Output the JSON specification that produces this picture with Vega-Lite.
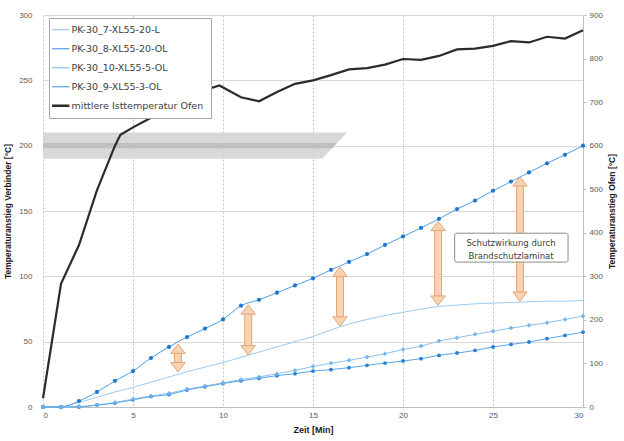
{
  "$schema": "https://vega.github.io/schema/vega-lite/v6.json",
  "width": 540,
  "height": 392,
  "autosize": {"type": "none"},
  "padding": {"left": 43, "top": 15, "right": 41, "bottom": 34},
  "background": "white",
  "config": {
    "view": {"stroke": null},
    "font": "Liberation Sans",
    "axis": {
      "labelFont": "Liberation Sans",
      "labelFontSize": 8,
      "labelColor": "#595959",
      "titleFont": "Liberation Sans",
      "titleFontSize": 8.5,
      "titleFontWeight": "bold",
      "titleColor": "#1a1a1a",
      "domainColor": "#bfbfbf",
      "tickColor": "#bfbfbf"
    },
    "legend": {
      "orient": "none",
      "legendX": 6,
      "legendY": 3,
      "fillColor": "white",
      "strokeColor": "#a6a6a6",
      "padding": 7,
      "labelFont": "DejaVu Sans",
      "labelFontSize": 9.5,
      "labelColor": "#404040",
      "labelOffset": 6,
      "symbolType": "stroke",
      "symbolSize": 300,
      "symbolStrokeWidth": 1.2,
      "rowPadding": 8
    }
  },
  "datasets": {
    "verb": [
      {"t":0,"series":"PK-30_7-XL55-20-L","v":0},{"t":1,"series":"PK-30_7-XL55-20-L","v":0.5},{"t":2,"series":"PK-30_7-XL55-20-L","v":3.5},{"t":3,"series":"PK-30_7-XL55-20-L","v":7.5},{"t":4,"series":"PK-30_7-XL55-20-L","v":11.5},{"t":5,"series":"PK-30_7-XL55-20-L","v":15},{"t":6,"series":"PK-30_7-XL55-20-L","v":19},{"t":7,"series":"PK-30_7-XL55-20-L","v":23},{"t":8,"series":"PK-30_7-XL55-20-L","v":27},{"t":9,"series":"PK-30_7-XL55-20-L","v":30.5},{"t":10,"series":"PK-30_7-XL55-20-L","v":34},{"t":11,"series":"PK-30_7-XL55-20-L","v":38},{"t":12,"series":"PK-30_7-XL55-20-L","v":42},{"t":13,"series":"PK-30_7-XL55-20-L","v":46},{"t":14,"series":"PK-30_7-XL55-20-L","v":50},{"t":15,"series":"PK-30_7-XL55-20-L","v":54},{"t":16,"series":"PK-30_7-XL55-20-L","v":59},{"t":17,"series":"PK-30_7-XL55-20-L","v":63.5},{"t":18,"series":"PK-30_7-XL55-20-L","v":67},{"t":19,"series":"PK-30_7-XL55-20-L","v":70},{"t":20,"series":"PK-30_7-XL55-20-L","v":72.5},{"t":21,"series":"PK-30_7-XL55-20-L","v":75},{"t":22,"series":"PK-30_7-XL55-20-L","v":77},{"t":23,"series":"PK-30_7-XL55-20-L","v":78},{"t":24,"series":"PK-30_7-XL55-20-L","v":79},{"t":25,"series":"PK-30_7-XL55-20-L","v":79.5},{"t":26,"series":"PK-30_7-XL55-20-L","v":80},{"t":27,"series":"PK-30_7-XL55-20-L","v":80.5},{"t":28,"series":"PK-30_7-XL55-20-L","v":81},{"t":29,"series":"PK-30_7-XL55-20-L","v":81},{"t":30,"series":"PK-30_7-XL55-20-L","v":81.5},
      {"t":0,"series":"PK-30_8-XL55-20-OL","v":0},{"t":1,"series":"PK-30_8-XL55-20-OL","v":0},{"t":2,"series":"PK-30_8-XL55-20-OL","v":4.5},{"t":3,"series":"PK-30_8-XL55-20-OL","v":11.5},{"t":4,"series":"PK-30_8-XL55-20-OL","v":20},{"t":5,"series":"PK-30_8-XL55-20-OL","v":27.5},{"t":6,"series":"PK-30_8-XL55-20-OL","v":37.5},{"t":7,"series":"PK-30_8-XL55-20-OL","v":46},{"t":8,"series":"PK-30_8-XL55-20-OL","v":53.5},{"t":9,"series":"PK-30_8-XL55-20-OL","v":60},{"t":10,"series":"PK-30_8-XL55-20-OL","v":67},{"t":11,"series":"PK-30_8-XL55-20-OL","v":77.5},{"t":12,"series":"PK-30_8-XL55-20-OL","v":82},{"t":13,"series":"PK-30_8-XL55-20-OL","v":87.5},{"t":14,"series":"PK-30_8-XL55-20-OL","v":93},{"t":15,"series":"PK-30_8-XL55-20-OL","v":98.5},{"t":16,"series":"PK-30_8-XL55-20-OL","v":105},{"t":17,"series":"PK-30_8-XL55-20-OL","v":111},{"t":18,"series":"PK-30_8-XL55-20-OL","v":117},{"t":19,"series":"PK-30_8-XL55-20-OL","v":124},{"t":20,"series":"PK-30_8-XL55-20-OL","v":130.5},{"t":21,"series":"PK-30_8-XL55-20-OL","v":137},{"t":22,"series":"PK-30_8-XL55-20-OL","v":144},{"t":23,"series":"PK-30_8-XL55-20-OL","v":151.5},{"t":24,"series":"PK-30_8-XL55-20-OL","v":158},{"t":25,"series":"PK-30_8-XL55-20-OL","v":165.5},{"t":26,"series":"PK-30_8-XL55-20-OL","v":172.5},{"t":27,"series":"PK-30_8-XL55-20-OL","v":179.5},{"t":28,"series":"PK-30_8-XL55-20-OL","v":186.5},{"t":29,"series":"PK-30_8-XL55-20-OL","v":193},{"t":30,"series":"PK-30_8-XL55-20-OL","v":200},
      {"t":0,"series":"PK-30_10-XL55-5-OL","v":0},{"t":1,"series":"PK-30_10-XL55-5-OL","v":0},{"t":2,"series":"PK-30_10-XL55-5-OL","v":0.5},{"t":3,"series":"PK-30_10-XL55-5-OL","v":1.5},{"t":4,"series":"PK-30_10-XL55-5-OL","v":3.5},{"t":5,"series":"PK-30_10-XL55-5-OL","v":6},{"t":6,"series":"PK-30_10-XL55-5-OL","v":8.5},{"t":7,"series":"PK-30_10-XL55-5-OL","v":10.5},{"t":8,"series":"PK-30_10-XL55-5-OL","v":13.5},{"t":9,"series":"PK-30_10-XL55-5-OL","v":16},{"t":10,"series":"PK-30_10-XL55-5-OL","v":18.5},{"t":11,"series":"PK-30_10-XL55-5-OL","v":21},{"t":12,"series":"PK-30_10-XL55-5-OL","v":23},{"t":13,"series":"PK-30_10-XL55-5-OL","v":25.5},{"t":14,"series":"PK-30_10-XL55-5-OL","v":28},{"t":15,"series":"PK-30_10-XL55-5-OL","v":31},{"t":16,"series":"PK-30_10-XL55-5-OL","v":33.5},{"t":17,"series":"PK-30_10-XL55-5-OL","v":35.7},{"t":18,"series":"PK-30_10-XL55-5-OL","v":38.2},{"t":19,"series":"PK-30_10-XL55-5-OL","v":40.8},{"t":20,"series":"PK-30_10-XL55-5-OL","v":44},{"t":21,"series":"PK-30_10-XL55-5-OL","v":46.6},{"t":22,"series":"PK-30_10-XL55-5-OL","v":50.5},{"t":23,"series":"PK-30_10-XL55-5-OL","v":53},{"t":24,"series":"PK-30_10-XL55-5-OL","v":55.6},{"t":25,"series":"PK-30_10-XL55-5-OL","v":58},{"t":26,"series":"PK-30_10-XL55-5-OL","v":60.4},{"t":27,"series":"PK-30_10-XL55-5-OL","v":62.5},{"t":28,"series":"PK-30_10-XL55-5-OL","v":64.5},{"t":29,"series":"PK-30_10-XL55-5-OL","v":67},{"t":30,"series":"PK-30_10-XL55-5-OL","v":69.6},
      {"t":0,"series":"PK-30_9-XL55-3-OL","v":0},{"t":1,"series":"PK-30_9-XL55-3-OL","v":0},{"t":2,"series":"PK-30_9-XL55-3-OL","v":0},{"t":3,"series":"PK-30_9-XL55-3-OL","v":1.5},{"t":4,"series":"PK-30_9-XL55-3-OL","v":3},{"t":5,"series":"PK-30_9-XL55-3-OL","v":5.5},{"t":6,"series":"PK-30_9-XL55-3-OL","v":8},{"t":7,"series":"PK-30_9-XL55-3-OL","v":9.5},{"t":8,"series":"PK-30_9-XL55-3-OL","v":13},{"t":9,"series":"PK-30_9-XL55-3-OL","v":15.5},{"t":10,"series":"PK-30_9-XL55-3-OL","v":18},{"t":11,"series":"PK-30_9-XL55-3-OL","v":20},{"t":12,"series":"PK-30_9-XL55-3-OL","v":22},{"t":13,"series":"PK-30_9-XL55-3-OL","v":24},{"t":14,"series":"PK-30_9-XL55-3-OL","v":25.5},{"t":15,"series":"PK-30_9-XL55-3-OL","v":27.5},{"t":16,"series":"PK-30_9-XL55-3-OL","v":28.6},{"t":17,"series":"PK-30_9-XL55-3-OL","v":30.1},{"t":18,"series":"PK-30_9-XL55-3-OL","v":31.9},{"t":19,"series":"PK-30_9-XL55-3-OL","v":33.6},{"t":20,"series":"PK-30_9-XL55-3-OL","v":35.2},{"t":21,"series":"PK-30_9-XL55-3-OL","v":37},{"t":22,"series":"PK-30_9-XL55-3-OL","v":39.5},{"t":23,"series":"PK-30_9-XL55-3-OL","v":41.3},{"t":24,"series":"PK-30_9-XL55-3-OL","v":43.3},{"t":25,"series":"PK-30_9-XL55-3-OL","v":45.9},{"t":26,"series":"PK-30_9-XL55-3-OL","v":47.9},{"t":27,"series":"PK-30_9-XL55-3-OL","v":49.7},{"t":28,"series":"PK-30_9-XL55-3-OL","v":52.3},{"t":29,"series":"PK-30_9-XL55-3-OL","v":54.8},{"t":30,"series":"PK-30_9-XL55-3-OL","v":57.3}
    ],
    "ofen": [
      {"t":0,"series":"mittlere Isttemperatur Ofen","v":20},{"t":1,"series":"mittlere Isttemperatur Ofen","v":283},{"t":2,"series":"mittlere Isttemperatur Ofen","v":372},{"t":3,"series":"mittlere Isttemperatur Ofen","v":498},{"t":4,"series":"mittlere Isttemperatur Ofen","v":600},{"t":4.3,"series":"mittlere Isttemperatur Ofen","v":625},{"t":5,"series":"mittlere Isttemperatur Ofen","v":642},{"t":6,"series":"mittlere Isttemperatur Ofen","v":664},{"t":7,"series":"mittlere Isttemperatur Ofen","v":688},{"t":8,"series":"mittlere Isttemperatur Ofen","v":712},{"t":9,"series":"mittlere Isttemperatur Ofen","v":728},{"t":9.8,"series":"mittlere Isttemperatur Ofen","v":738},{"t":11,"series":"mittlere Isttemperatur Ofen","v":711},{"t":12,"series":"mittlere Isttemperatur Ofen","v":702},{"t":13,"series":"mittlere Isttemperatur Ofen","v":723},{"t":14,"series":"mittlere Isttemperatur Ofen","v":742},{"t":15,"series":"mittlere Isttemperatur Ofen","v":750},{"t":16,"series":"mittlere Isttemperatur Ofen","v":762},{"t":17,"series":"mittlere Isttemperatur Ofen","v":775},{"t":18,"series":"mittlere Isttemperatur Ofen","v":778},{"t":19,"series":"mittlere Isttemperatur Ofen","v":786},{"t":20,"series":"mittlere Isttemperatur Ofen","v":799},{"t":21,"series":"mittlere Isttemperatur Ofen","v":797},{"t":22,"series":"mittlere Isttemperatur Ofen","v":806},{"t":23,"series":"mittlere Isttemperatur Ofen","v":821},{"t":24,"series":"mittlere Isttemperatur Ofen","v":823},{"t":25,"series":"mittlere Isttemperatur Ofen","v":829},{"t":26,"series":"mittlere Isttemperatur Ofen","v":840},{"t":27,"series":"mittlere Isttemperatur Ofen","v":837},{"t":28,"series":"mittlere Isttemperatur Ofen","v":850},{"t":29,"series":"mittlere Isttemperatur Ofen","v":846},{"t":30,"series":"mittlere Isttemperatur Ofen","v":865}
    ],
    "band": [
      {"t":0,"lo":190,"hi":210},{"t":15.5,"lo":190,"hi":210},{"t":16.9,"lo":210,"hi":210}
    ],
    "bandmid": [
      {"t":0,"lo":198,"hi":202},{"t":16.06,"lo":198,"hi":202},{"t":16.34,"lo":202,"hi":202}
    ],
    "arrows": [
      {"t":7.5,"lo":34,"hi":41},
      {"t":11.4,"lo":47,"hi":71},
      {"t":16.5,"lo":69,"hi":100},
      {"t":21.95,"lo":85,"hi":135},
      {"t":26.5,"lo":88,"hi":169}
    ],
    "note": [
      {"x1":22.87,"x2":29.17,"y1":110.9,"y2":133,"xc":26.0,"yc":125.4,"label":["Schutzwirkung durch","Brandschutzlaminat"]}
    ]
  },
  "layer": [
    {
      "layer": [
        {
          "data": {"name": "band"},
          "mark": {"type": "area", "color": "#d4d4d4", "opacity": 0.9},
          "encoding": {
            "x": {"field": "t", "type": "quantitative", "scale": {"domain": [0, 30], "nice": false},
              "title": "Zeit [Min]",
              "axis": {"values": [0,5,10,15,20,25,30], "grid": true, "gridDash": [2,2], "gridColor": "#c4c4c4", "ticks": false, "labelPadding": 4, "titlePadding": 6, "titleFontSize": 9, "domainColor": "#bfbfbf"}},
            "y": {"field": "lo", "type": "quantitative", "scale": {"domain": [0, 300], "nice": false},
              "title": "Temperaturanstieg Verbinder [°C]",
              "axis": {"values": [0,50,100,150,200,250,300], "grid": true, "gridColor": "#d9d9d9", "ticks": false, "domain": false, "labelPadding": 11, "titlePadding": 6}},
            "y2": {"field": "hi"}
          }
        },
        {
          "data": {"name": "bandmid"},
          "mark": {"type": "area", "color": "#bdbdbd", "opacity": 0.9},
          "encoding": {
            "x": {"field": "t", "type": "quantitative", "title": "Zeit [Min]"},
            "y": {"field": "lo", "type": "quantitative", "title": "Temperaturanstieg Verbinder [°C]"},
            "y2": {"field": "hi"}
          }
        },
        {
          "data": {"name": "verb"},
          "mark": {"type": "line", "interpolate": "monotone", "strokeWidth": 1},
          "encoding": {
            "x": {"field": "t", "type": "quantitative", "title": "Zeit [Min]"},
            "y": {"field": "v", "type": "quantitative", "title": "Temperaturanstieg Verbinder [°C]"},
            "color": {"field": "series", "type": "nominal",
              "scale": {"domain": ["PK-30_7-XL55-20-L","PK-30_8-XL55-20-OL","PK-30_10-XL55-5-OL","PK-30_9-XL55-3-OL","mittlere Isttemperatur Ofen"],
                        "range": ["#9dcbf0","#4f9fe4","#8cc2ee","#5aa5e6","#2b2b2b"]},
              "legend": {"title": null, "orient": "none", "legendX": 6, "legendY": 3, "rowPadding": 8,
                "encode": {"symbols": {"update": {"strokeWidth": {"signal": "datum.value === 'mittlere Isttemperatur Ofen' ? 2.5 : 1.2"}}}}}}
          }
        },
        {
          "data": {"name": "verb"},
          "transform": [{"filter": "datum.series === 'PK-30_8-XL55-20-OL'"}],
          "mark": {"type": "point", "shape": "circle", "filled": true, "color": "#1f78d0", "size": 18, "opacity": 1},
          "encoding": {
            "x": {"field": "t", "type": "quantitative", "title": "Zeit [Min]"},
            "y": {"field": "v", "type": "quantitative", "title": "Temperaturanstieg Verbinder [°C]"}
          }
        },
        {
          "data": {"name": "verb"},
          "transform": [{"filter": "datum.series === 'PK-30_9-XL55-3-OL'"}],
          "mark": {"type": "point", "shape": "circle", "filled": true, "color": "#2a80d4", "size": 15, "opacity": 1},
          "encoding": {
            "x": {"field": "t", "type": "quantitative", "title": "Zeit [Min]"},
            "y": {"field": "v", "type": "quantitative", "title": "Temperaturanstieg Verbinder [°C]"}
          }
        },
        {
          "data": {"name": "verb"},
          "transform": [{"filter": "datum.series === 'PK-30_10-XL55-5-OL'"}],
          "mark": {"type": "point", "shape": "cross", "filled": true, "color": "#74b3ea", "size": 16, "opacity": 1},
          "encoding": {
            "x": {"field": "t", "type": "quantitative", "title": "Zeit [Min]"},
            "y": {"field": "v", "type": "quantitative", "title": "Temperaturanstieg Verbinder [°C]"}
          }
        },
        {
          "data": {"name": "arrows"},
          "mark": {"type": "rule", "color": "#e3a67a", "strokeWidth": 8},
          "encoding": {
            "x": {"field": "t", "type": "quantitative", "title": "Zeit [Min]"},
            "y": {"field": "lo", "type": "quantitative", "title": "Temperaturanstieg Verbinder [°C]"},
            "y2": {"field": "hi"}
          }
        },
        {
          "data": {"name": "arrows"},
          "mark": {"type": "rule", "color": "#f8d3b2", "strokeWidth": 6},
          "encoding": {
            "x": {"field": "t", "type": "quantitative", "title": "Zeit [Min]"},
            "y": {"field": "lo", "type": "quantitative", "title": "Temperaturanstieg Verbinder [°C]"},
            "y2": {"field": "hi"}
          }
        },
        {
          "data": {"name": "arrows"},
          "mark": {"type": "point", "shape": "M-1,0L0,-1.3L1,0Z", "filled": true, "fill": "#f8d3b2", "stroke": "#e3a67a", "strokeWidth": 1, "size": 210, "opacity": 1},
          "encoding": {
            "x": {"field": "t", "type": "quantitative", "title": "Zeit [Min]"},
            "y": {"field": "hi", "type": "quantitative", "title": "Temperaturanstieg Verbinder [°C]"}
          }
        },
        {
          "data": {"name": "arrows"},
          "mark": {"type": "point", "shape": "M-1,0L0,1.3L1,0Z", "filled": true, "fill": "#f8d3b2", "stroke": "#e3a67a", "strokeWidth": 1, "size": 210, "opacity": 1},
          "encoding": {
            "x": {"field": "t", "type": "quantitative", "title": "Zeit [Min]"},
            "y": {"field": "lo", "type": "quantitative", "title": "Temperaturanstieg Verbinder [°C]"}
          }
        },
        {
          "data": {"name": "note"},
          "mark": {"type": "rect", "fill": "white", "stroke": "#8c8c8c", "strokeWidth": 1, "cornerRadius": 2},
          "encoding": {
            "x": {"field": "x1", "type": "quantitative", "title": "Zeit [Min]"},
            "x2": {"field": "x2"},
            "y": {"field": "y1", "type": "quantitative", "title": "Temperaturanstieg Verbinder [°C]"},
            "y2": {"field": "y2"}
          }
        },
        {
          "data": {"name": "note"},
          "mark": {"type": "text", "font": "DejaVu Sans", "fontSize": 8.5, "color": "#404040", "lineHeight": 12.5, "align": "center", "baseline": "middle"},
          "encoding": {
            "x": {"field": "xc", "type": "quantitative", "title": "Zeit [Min]"},
            "y": {"field": "yc", "type": "quantitative", "title": "Temperaturanstieg Verbinder [°C]"},
            "text": {"field": "label"}
          }
        }
      ]
    },
    {
      "data": {"name": "ofen"},
      "mark": {"type": "line", "strokeWidth": 2.2},
      "encoding": {
        "x": {"field": "t", "type": "quantitative", "title": "Zeit [Min]"},
        "y": {"field": "v", "type": "quantitative", "scale": {"domain": [0, 900], "nice": false},
          "title": "Temperaturanstieg Ofen [°C]",
          "axis": {"orient": "right", "values": [0,100,200,300,400,500,600,700,800,900], "grid": false, "ticks": true, "tickSize": 3, "domain": true, "labelPadding": 3, "titlePadding": 14, "titleAngle": 270, "titleBaseline": "bottom"}},
        "color": {"field": "series", "type": "nominal", "legend": {"title": null}}
      }
    }
  ],
  "resolve": {"scale": {"y": "independent"}}
}
